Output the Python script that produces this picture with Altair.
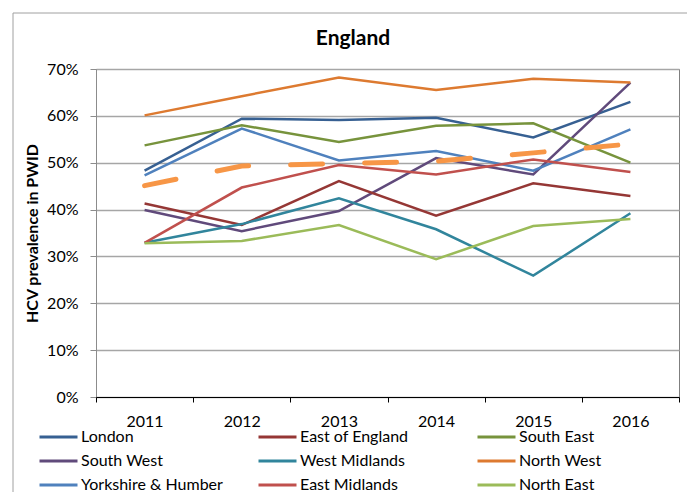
import altair as alt
import pandas as pd

years = ["2011", "2012", "2013", "2014", "2015", "2016"]
# legend order (column by column): London, South West, Yorkshire & Humber, ...
regions = ["London", "South West", "Yorkshire & Humber",
           "East of England", "West Midlands", "East Midlands",
           "South East", "North West", "North East"]
colors = ["#376092", "#604A7B", "#4F81BD",
          "#953735", "#31859C", "#C0504D",
          "#77933C", "#DD7A30", "#9BBB59"]

london = [48.3, 59.4, 59.1, 59.6, 55.4, 63.0]
south_west = [39.9, 35.4, 39.7, 51.0, 47.5, 67.1]
yorkshire = [47.3, 57.3, 50.5, 52.5, 48.3, 57.1]
east_of_england = [41.3, 36.7, 46.1, 38.7, 45.6, 42.9]
west_midlands = [32.9, 36.9, 42.4, 35.8, 25.9, 39.2]
east_midlands = [32.9, 44.7, 49.5, 47.5, 50.7, 48.0]
south_east = [53.7, 58.0, 54.4, 57.9, 58.4, 50.0]
north_west = [60.1, 64.2, 68.2, 65.5, 67.9, 67.1]
north_east = [32.8, 33.3, 36.7, 29.4, 36.5, 38.0]
england_average = [45.1, 49.3, 49.8, 50.3, 52.1, 54.0]

series = [london, south_west, yorkshire, east_of_england, west_midlands,
          east_midlands, south_east, north_west, north_east]

rows = []
for name, vals in zip(regions, series):
    for y, v in zip(years, vals):
        rows.append({"region": name, "year": y, "value": v / 100.0})
df = pd.DataFrame(rows)
avg_df = pd.DataFrame({"year": years, "value": [v / 100.0 for v in england_average]})

FONT = "Lato"

x_enc = alt.X("year:N", sort=years, bandPosition=0.5,
              scale=alt.Scale(type="band", paddingInner=0, paddingOuter=0),
              axis=alt.Axis(title=None, labelAngle=0, tickBand="extent", grid=False,
                            domainColor="#000000", tickColor="#000000", tickSize=5,
                            labelPadding=11, labelFontSize=16, labelFont=FONT,
                            labelColor="#000000", zindex=1))
y_enc = alt.Y("value:Q", scale=alt.Scale(domain=[0, 0.7], nice=False),
              axis=alt.Axis(title="HCV prevalence in PWID", format=".0%",
                            values=[0, 0.1, 0.2, 0.3, 0.4, 0.5, 0.6, 0.7],
                            grid=True, gridColor="#A6A6A6", gridWidth=1.5,
                            domainColor="#8C8C8C", tickColor="#8C8C8C", tickSize=6,
                            labelPadding=12, labelFontSize=16, labelFont=FONT,
                            labelColor="#000000", titleFont=FONT, titleFontSize=16,
                            titleFontWeight="bold", titleColor="#000000",
                            titlePadding=6))

lines = alt.Chart(df).mark_line(strokeWidth=2.5).encode(
    x=x_enc,
    y=y_enc,
    color=alt.Color("region:N",
                    scale=alt.Scale(domain=regions, range=colors),
                    legend=alt.Legend(title=None, orient="none", legendX=-58, legendY=356,
                                      columns=3, gridAlign="all", columnPadding=34,
                                      rowPadding=0, clipHeight=24,
                                      symbolType="stroke", symbolSize=1444,
                                      symbolStrokeWidth=3, labelOffset=2,
                                      labelFontSize=16, labelFont=FONT,
                                      labelColor="#000000", labelLimit=300)),
)

avg = alt.Chart(avg_df).mark_line(strokeWidth=5, color="#F79646",
                                   strokeDash=[32, 42], strokeCap="round").encode(
    x=alt.X("year:N", sort=years, bandPosition=0.5),
    y=alt.Y("value:Q"),
)

border = alt.Chart(pd.DataFrame({"a": [0]})).mark_rect(
    fillOpacity=0, stroke="#A0A0A0", strokeWidth=1
).encode(x=alt.value(-83), x2=alt.value(596), y=alt.value(-56), y2=alt.value(440))

title = alt.Chart(pd.DataFrame({"t": ["England"]})).mark_text(
    font=FONT, fontSize=21, fontWeight="bold", color="#000000",
    align="center", baseline="middle"
).encode(text="t:N", x=alt.value(257), y=alt.value(-30))

chart = alt.layer(border, lines, avg, title).properties(
    width=583, height=328,
    padding={"left": 88, "top": 61, "right": 8, "bottom": 95},
    autosize=alt.AutoSizeParams(type="none"),
).configure_view(stroke="#7F7F7F", strokeWidth=1)

chart.save("out.html", embed_options={"renderer": "svg", "actions": False})
